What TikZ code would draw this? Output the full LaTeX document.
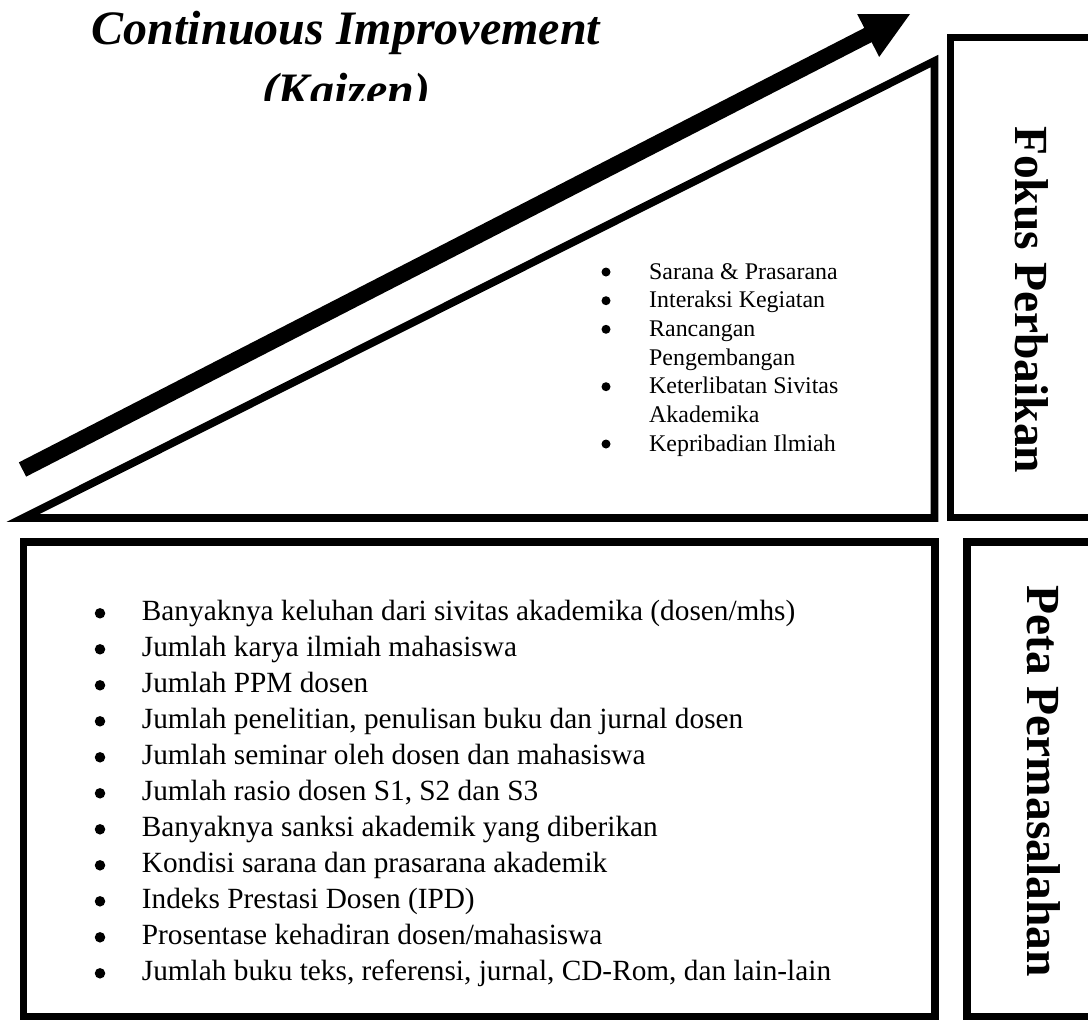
\documentclass[tikz,border=0pt]{standalone}
\usepackage{fontspec}
\setmainfont{Liberation Serif}
\begin{document}
\begin{tikzpicture}[x=1pt,y=-1pt,
  frame/.style={draw=black, line width=7.7pt, line join=miter},
  item/.style={anchor=base west, inner sep=0pt, font=\fontsize{29.3}{34}\selectfont},
  bul/.style={circle, fill=black, inner sep=0pt, minimum size=10.5pt},
  sitem/.style={anchor=base west, inner sep=0pt, font=\fontsize{23.9}{28}\selectfont},
  sbul/.style={circle, fill=black, inner sep=0pt, minimum size=9pt},
  vlabel/.style={anchor=base west, rotate=-90, inner sep=0pt, font=\fontsize{47.5}{56}\selectfont\bfseries},
  titletext/.style={anchor=base, inner sep=0pt, font=\fontsize{48}{56}\selectfont\bfseries\itshape}]
\path[use as bounding box] (0,0) rectangle (1088,1021);
\begin{scope}
\clip (0,0) rectangle (1088,1021);

% title
\node[titletext] (t1) at (346,44.5) {Continuous Improvement};
\begin{scope}
\clip (0,0) rectangle (1088,100);
\node[titletext] (t2) at (346,106) {(Kaizen)};
\end{scope}

% arrow
\coordinate (tail) at (22.5,469.5);
\coordinate (hin) at (871,33.5);
\coordinate (tip) at (910,14);
\coordinate (h1) at (857.2,14.1);
\coordinate (h2) at (879.2,56.9);
\draw[line width=16pt] (tail) -- (hin);
\fill (h1) -- (tip) -- (h2) -- cycle;

% triangle
\coordinate (ta) at (23,518);
\coordinate (tb) at (934.5,518);
\coordinate (tc) at (934.5,61);
\draw[frame] (ta) -- (tb) -- (tc) -- cycle;

% boxes
\draw[frame] (950.5,37.5) rectangle (1110,517.5);
\draw[frame] (23.5,542) rectangle (935,1016.5);
\draw[frame] (966.7,542) rectangle (1110,1016.5);

% vertical labels
\node[vlabel] (fokus) at (1015,126) {Fokus Perbaikan};
\node[vlabel] (peta) at (1027,585) {Peta Permasalahan};

% small list
\node[sbul] (sb1) at (606,272) {};
\node[sitem] (si1) at (649,279) {Sarana \& Prasarana};
\node[sbul] (sb2) at (606,300.7) {};
\node[sitem] (si2) at (649,307.7) {Interaksi Kegiatan};
\node[sbul] (sb3) at (606,329.3) {};
\node[sitem] (si3) at (649,336.3) {Rancangan};
\node[sitem] (si4) at (649,365) {Pengembangan};
\node[sbul] (sb5) at (606,386.7) {};
\node[sitem] (si5) at (649,393.7) {Keterlibatan Sivitas};
\node[sitem] (si6) at (649,422.3) {Akademika};
\node[sbul] (sb7) at (606,444) {};
\node[sitem] (si7) at (649,451) {Kepribadian Ilmiah};

% main list
\foreach \t [count=\i] in {
  {Banyaknya keluhan dari sivitas akademika (dosen/mhs)},
  {Jumlah karya ilmiah mahasiswa},
  {Jumlah PPM dosen},
  {Jumlah penelitian, penulisan buku dan jurnal dosen},
  {Jumlah seminar oleh dosen dan mahasiswa},
  {Jumlah rasio dosen S1, S2 dan S3},
  {Banyaknya sanksi akademik yang diberikan},
  {Kondisi sarana dan prasarana akademik},
  {Indeks Prestasi Dosen (IPD)},
  {Prosentase kehadiran dosen/mahasiswa},
  {Jumlah buku teks, referensi, jurnal, CD-Rom, dan lain-lain}} {
  \node[bul] (mb\i) at (100,{613.3+36*(\i-1)}) {};
  \node[item] (mi\i) at (141.7,{620+36*(\i-1)}) {\t};
}
\end{scope}
\end{tikzpicture}
\end{document}
